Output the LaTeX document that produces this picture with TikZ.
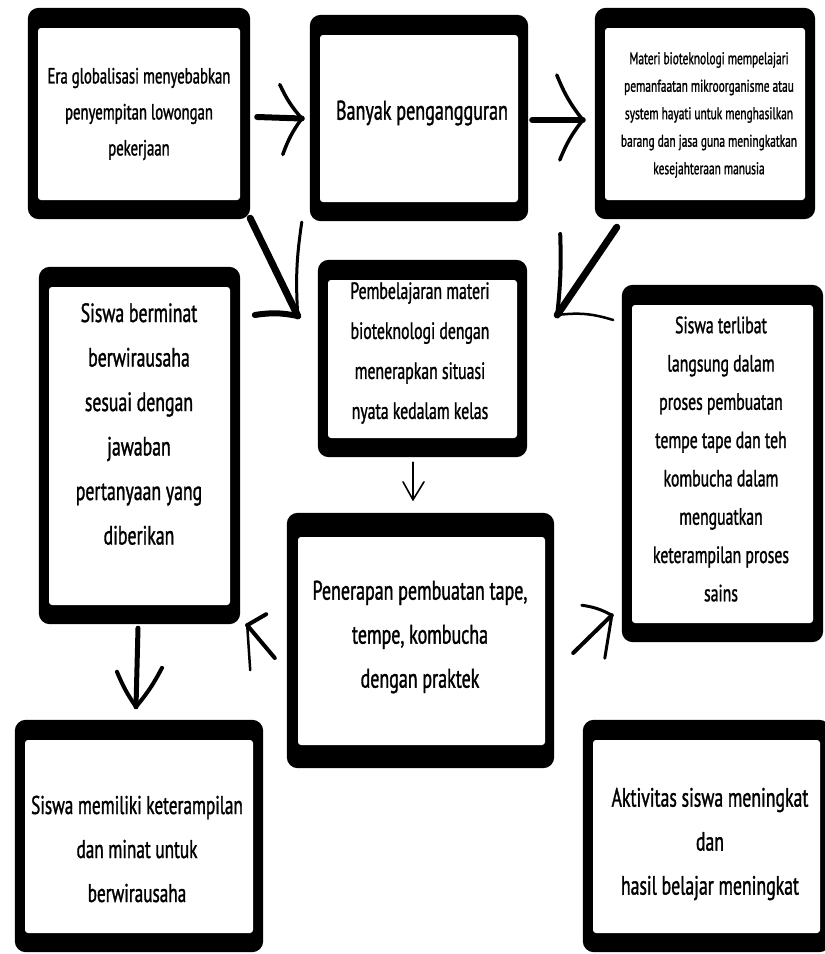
\documentclass[tikz,border=0pt]{standalone}
\usepackage{fontspec}
\newfontfamily\handfont[FakeStretch=0.67,FakeBold=1.2]{PT Sans}
\usetikzlibrary{backgrounds,calc}
\begin{document}
\begin{tikzpicture}[x=1pt,y=-1pt,
  panel/.style={fill=white, inner sep=0pt, rounded corners=3pt},
  txt/.style={align=center, inner sep=0pt, text=black},
  stroke/.style={line width=#1, line cap=round, line join=round, black}]
\useasboundingbox (0,0) rectangle (825,954);

% panels (inner white areas)
\node[panel, minimum width=202pt, minimum height=172pt] (b1) at (139,114) {};
\node[panel, minimum width=198pt, minimum height=167pt] (b2) at (419,118.5) {};
\node[panel, minimum width=200pt, minimum height=172pt] (b3) at (705,114) {};
\node[panel, minimum width=181pt, minimum height=318pt] (b4) at (139.5,446) {};
\node[panel, minimum width=189pt, minimum height=158pt] (b5) at (422.5,359) {};
\node[panel, minimum width=181pt, minimum height=318pt] (b6) at (722.5,464) {};
\node[panel, minimum width=247pt, minimum height=208pt] (b7) at (421.5,641) {};
\node[panel, minimum width=228pt, minimum height=193pt] (b8) at (139,836.5) {};
\node[panel, minimum width=227pt, minimum height=193pt] (b9) at (706.5,836.5) {};

\begin{scope}[on background layer]
\fill[white] (0,0) rectangle (825,954);
\foreach \n in {b1,b2,b3,b4,b5,b6,b8,b9}
  \fill[black, rounded corners=11pt] ([xshift=-10pt,yshift=-19pt]\n.south west) rectangle ([xshift=10pt,yshift=20pt]\n.north east);
\fill[black, rounded corners=11pt] ([xshift=-11pt,yshift=-23pt]b7.south west) rectangle ([xshift=9pt,yshift=24pt]b7.north east);
\end{scope}

% texts
\node[txt, font=\handfont\fontsize{22}{36}\selectfont] (t1) at (139,114)
  {Era globalisasi menyebabkan\\penyempitan lowongan\\pekerjaan};
\node[txt, font=\handfont\fontsize{27}{36}\selectfont] (t2) at (422,113)
  {Banyak pengangguran};
\node[txt, font=\handfont\fontsize{17}{27.5}\selectfont] (t3) at (709,115)
  {Materi bioteknologi mempelajari\\pemanfaatan mikroorganisme atau\\system hayati untuk menghasilkan\\barang dan jasa guna meningkatkan\\kesejahteraan manusia};
\node[txt, font=\handfont\fontsize{26.5}{44.5}\selectfont] (t4) at (139,424)
  {Siswa berminat\\berwirausaha\\sesuai dengan\\jawaban\\pertanyaan yang\\diberikan};
\node[txt, font=\handfont\fontsize{23.5}{40}\selectfont] (t5) at (420,353)
  {Pembelajaran materi\\bioteknologi dengan\\menerapkan situasi\\nyata kedalam kelas};
\node[txt, font=\handfont\fontsize{23.5}{38.3}\selectfont] (t6) at (721,459)
  {Siswa terlibat\\langsung dalam\\proses pembuatan\\tempe tape dan teh\\kombucha dalam\\menguatkan\\keterampilan proses\\sains};
\node[txt, font=\handfont\fontsize{26.8}{44}\selectfont] (t7) at (420,637)
  {Penerapan pembuatan tape,\\tempe, kombucha\\dengan praktek};
\node[txt, font=\handfont\fontsize{25.7}{44}\selectfont] (t8) at (137,849)
  {Siswa memiliki keterampilan\\dan minat untuk\\berwirausaha};
\node[txt, font=\handfont\fontsize{26.5}{44}\selectfont] (t9) at (710,844)
  {Aktivitas siswa meningkat\\dan\\hasil belajar meningkat};

% arrow tips and starts
\coordinate (a1s) at ($(b1.east)+(17,3)$);
\coordinate (a1t) at ($(b2.west)+(-18,0)$);
\coordinate (a2s) at ($(b2.east)+(14,1.5)$);
\coordinate (a2t) at ($(b3.west)+(-22,6)$);
\coordinate (a3s) at ($(b1.south east)+(10,18)$);
\coordinate (a3t) at ($(b5.west)+(-30,-43)$);
\coordinate (a4s) at ($(b3.south west)+(12,27)$);
\coordinate (a4t) at ($(b5.east)+(40,-44)$);
\coordinate (a5s) at ($(b5.south)+(-9.5,24)$);
\coordinate (a5t) at ($(b7.north)+(-8.5,-37)$);
\coordinate (a6s) at ($(b7.west)+(-23,17)$);
\coordinate (a6t) at ($(b4.south east)+(17,20)$);
\coordinate (a7s) at ($(b7.east)+(28,12)$);
\coordinate (a7t) at ($(b6.south west)+(-20,-8)$);
\coordinate (a8s) at ($(b4.south)+(-1.5,23)$);
\coordinate (a8t) at ($(b8.north)+(-3,-33)$);

% A1
\draw[stroke=6pt] (a1s) -- (a1t);
\draw[stroke=3.5pt] (a1t) to[bend left=8] ++(-22,-34);
\draw[stroke=3.5pt] (a1t) to[bend right=8] ++(-19,36);
% A2
\draw[stroke=6pt] (a2s) -- (a2t);
\draw[stroke=3.5pt] (a2t) to[bend left=8] ++(-26,-45);
\draw[stroke=3.5pt] (a2t) to[bend right=8] ++(-23,40);
% A3
\draw[stroke=7pt] (a3s) -- (a3t);
\draw[stroke=3pt] (a3t) to[bend left=6] ++(4,-94);
\draw[stroke=6pt] (a3t) to[bend right=10] ++(-43,-1);
% A4
\draw[stroke=7pt] (a4s) -- (a4t);
\draw[stroke=4pt] (a4t) to[bend right=4] ++(3,-81);
\draw[stroke=2.5pt] (a4t) to[bend left=12] ++(56,5);
% A5
\draw[stroke=1.6pt] (a5s) -- (a5t);
\draw[stroke=1.6pt] (a5t) -- ++(-10,-18);
\draw[stroke=1.6pt] (a5t) -- ++(11,-18);
% A6
\draw[stroke=4pt] (a6s) -- (a6t);
\draw[stroke=4pt] (a6t) -- ++(19,-11);
\draw[stroke=2.5pt] (a6t) -- ++(3,45);
% A7
\draw[stroke=4pt] (a7s) -- (a7t);
\draw[stroke=3pt] (a7t) to[bend right=10] ++(-30,-10);
\draw[stroke=3pt] (a7t) -- ++(-7,43);
% A8
\draw[stroke=5pt] (a8s) -- (a8t);
\draw[stroke=4pt] (a8t) to[bend left=6] ++(-19,-35);
\draw[stroke=4pt] (a8t) to[bend right=6] ++(26,-39);
\end{tikzpicture}
\end{document}
